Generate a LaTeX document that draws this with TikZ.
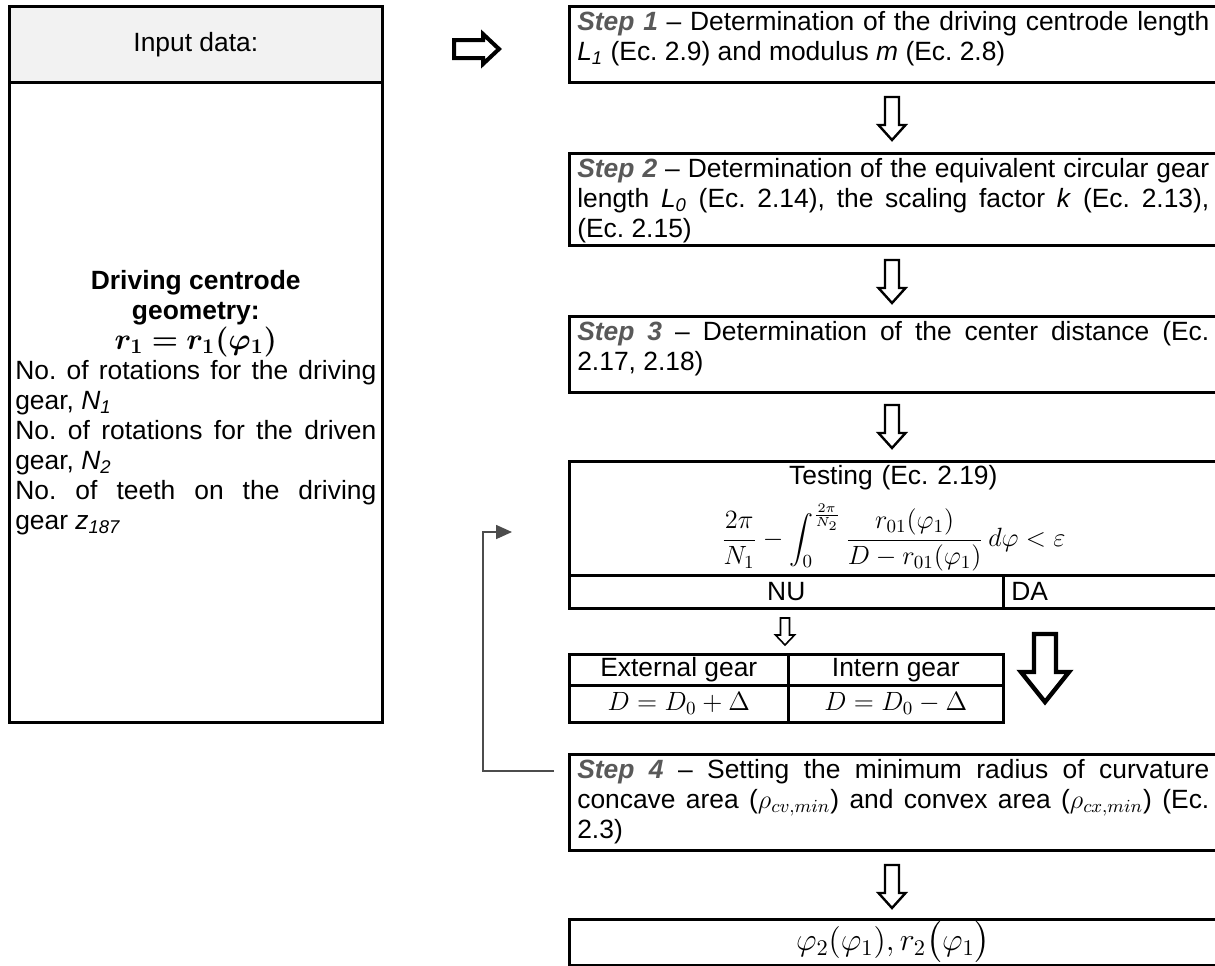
\RequirePackage{fix-cm}
\documentclass[tikz,border=0pt]{standalone}
\usepackage{amsmath}
\usepackage{bm}
\usepackage[no-math]{fontspec}
\setmainfont{Liberation Sans}
\usetikzlibrary{arrows.meta,calc}

\definecolor{stepgray}{gray}{0.35}
\definecolor{headgray}{gray}{0.95}
\newcommand{\bodyfont}{\fontsize{13.2pt}{15pt}\selectfont\frenchspacing}
\newcommand{\steplabel}[1]{\textcolor{stepgray}{\textbf{\textit{#1}}}}
\newcommand{\subit}[2]{\textit{#1}\textsubscript{\textit{#2}}}
\newcommand{\midline}[1]{\makebox[\linewidth]{#1}\par}

\begin{document}
\begin{tikzpicture}
  [x=0.5pt,y=-0.5pt,every node/.style={font=\bodyfont}]

  \tikzset{
  box/.style = {draw, line width=1.3pt, anchor=north west, inner xsep=4pt, inner ysep=2pt},
  stepbox/.style = {box, text width=316pt, align=justify, text height=10pt, text depth=#1},
  cell/.style = {box, inner ysep=1pt, minimum height=#1, align=center},
  hollow/.style = {draw, line join=miter, line width=1.2pt},
  feedback/.style = {draw=black!70, line width=0.85pt, -{Triangle[length=8pt,width=7pt]}}
  }

  \useasboundingbox (0,0) rectangle (1215,965);

  \node[box, fill=headgray, minimum width=186.5pt, minimum height=38pt] (input) at (8,5) {Input data:};
  \node[box, inner xsep=3pt, minimum width=186.5pt, minimum height=320pt, text width=180.5pt, align=justify] (geom) at (8,81)
    {\midline{\textbf{Driving centrode}}
     \midline{\textbf{geometry:}}
     \midline{\fontsize{15pt}{15pt}\selectfont$\bm{r_1 = r_1(\varphi_1)}$}
     No. of rotations for the driving\linebreak gear, \subit{N}{1}\par
     No. of rotations for the driven\linebreak gear, \subit{N}{2}\par
     No. of teeth on the driving\linebreak gear \subit{z}{187}};

  \node[stepbox=24pt] (step1) at (568,5)
    {\steplabel{Step 1} – Determination of the driving centrode length\linebreak
     \subit{L}{1} (Ec. 2.9) and modulus \textit{m} (Ec. 2.8)};
  \node[stepbox=32pt] (step2) at (568,152)
    {\steplabel{Step 2} – Determination of the equivalent circular gear\linebreak
     length \subit{L}{0} (Ec. 2.14), the scaling factor \textit{k} (Ec. 2.13),\linebreak (Ec. 2.15)};
  \node[stepbox=24pt] (step3) at (568,315)
    {\steplabel{Step 3} – Determination of the center distance (Ec.\linebreak 2.17, 2.18)};

  \node[box, inner ysep=0.5pt, minimum width=324pt, minimum height=57pt, text width=316pt, align=center] (testing) at (568,460)
    {Testing (Ec. 2.19)\\[6pt]
     \mbox{\fontsize{13.2pt}{15pt}\selectfont$\displaystyle \frac{2\pi}{N_1} - \int_0^{\frac{2\pi}{N_2}} \frac{r_{01}(\varphi_1)}{D - r_{01}(\varphi_1)}\,d\varphi < \varepsilon$}};
  \node[cell=16.5pt, minimum width=217pt] (nu) at (568,574) {NU};
  \node[box, minimum width=107pt, minimum height=16.5pt, text width=99pt, align=left] (da) at (1002,574) {DA};

  \node[cell=15.5pt, minimum width=109.5pt] (ext) at (568,653) {External gear};
  \node[cell=15.5pt, minimum width=107.5pt] (int) at (787,653) {Intern gear};
  \node[cell=18.5pt, minimum width=109.5pt] (extD) at (568,684) {$D = D_0 + \Delta$};
  \node[cell=18.5pt, minimum width=107.5pt] (intD) at (787,684) {$D = D_0 - \Delta$};

  \node[stepbox=34pt] (step4) at (568,753)
    {\steplabel{Step 4} – Setting the minimum radius of curvature\linebreak
     concave area ($\rho_{cv,min}$) and convex area ($\rho_{cx,min}$) (Ec.\linebreak 2.3)};
  \node[cell=23pt, minimum width=324pt] (result) at (568,918)
    {\fontsize{16pt}{16pt}\selectfont$\varphi_2(\varphi_1), r_2\bigl(\varphi_1\bigr)$};

  \foreach \ya/\yb in {97/140,260/303,405/448,865/908}
    \draw[hollow] (885,\ya) -- (899,\ya) -- (899,\yb-15) -- (905.5,\yb-15) -- (892,\yb)
      -- (878.5,\yb-15) -- (885,\yb-15) -- cycle;

  \draw[hollow, line width=2pt] (454,40) -- (483,40) -- (483,34) -- (499,49) -- (483,64)
    -- (483,58) -- (454,58) -- cycle;
  \draw[hollow, line width=0.8pt] (780.5,618) -- (789.5,618) -- (789.5,635) -- (794.5,635)
    -- (785,645) -- (775.5,635) -- (780.5,635) -- cycle;
  \draw[hollow, line width=2.2pt] (1034,634) -- (1056,634) -- (1056,672) -- (1069,672)
    -- (1045,702) -- (1021,672) -- (1034,672) -- cycle;

  \coordinate (fbstart) at ($(step4.north west)+(-14,18)$);
  \coordinate (fbcorner) at ($(testing.north west)+(-85,72)$);
  \coordinate (fbend) at ($(testing.north west)+(-56,72)$);
  \draw[feedback] (fbstart) -| (fbcorner) -- (fbend);

\end{tikzpicture}
\end{document}
